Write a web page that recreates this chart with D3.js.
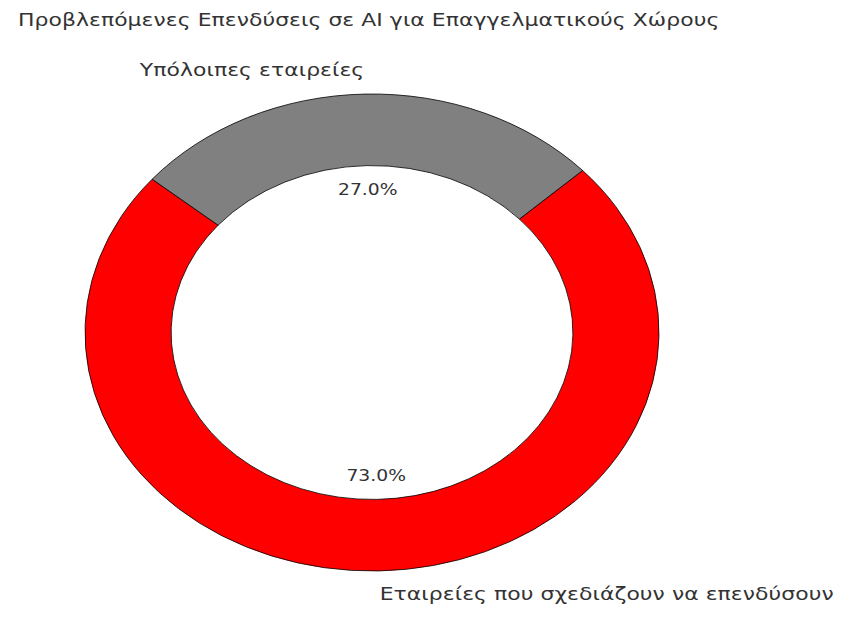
<!DOCTYPE html>
<html><head><meta charset="utf-8">
<script src="https://cdn.jsdelivr.net/npm/d3@7"></script>
<style>body{margin:0;background:#fff}svg{display:block}text{font-family:"DejaVu Sans",sans-serif;fill:#333}</style>
</head><body>
<svg id="c" width="850" height="641"></svg>
<script>
const title = "Προβλεπόμενες Επενδύσεις σε AI για Επαγγελματικούς Χώρους";
const labels = ["Εταιρείες που σχεδιάζουν να επενδύσουν", "Υπόλοιπες εταιρείες"];
const values = [73, 27];
const colors = ["#ff0000", "#808080"];

const svg = d3.select("#c");
const cx = 372, cy = 332.5, rx = 287, ry = 238.5, R = 100;
const startDeg = 140; // counterclockwise from 3 o'clock
const toD3 = d => (90 - d) * Math.PI / 180;
const sx = 1.185;

svg.append("text").attr("transform", `translate(18,26) scale(${sx},1)`)
  .attr("font-size", 18.5).attr("letter-spacing", 0.05).text(title);

const pie = d3.pie().sort(null).startAngle(toD3(startDeg)).endAngle(toD3(startDeg + 360));
const arcs = pie(values);
const arc = d3.arc().innerRadius(R * 0.7).outerRadius(R);

const g = svg.append("g").attr("transform", `translate(${cx},${cy}) scale(${rx / R},${ry / R})`);
g.selectAll("path").data(arcs).join("path")
  .attr("d", arc)
  .attr("fill", (d, i) => colors[i])
  .attr("stroke", "#000")
  .attr("stroke-width", 0.8)
  .attr("vector-effect", "non-scaling-stroke");

arcs.forEach((d, i) => {
  const mid = (d.startAngle + d.endAngle) / 2; // d3 angle
  const ux = Math.sin(mid), uy = -Math.cos(mid);
  const lx = cx + 1.1 * rx * ux, ly = cy + 1.1 * ry * uy;
  svg.append("text").attr("transform", `translate(${lx},${ly}) scale(${sx},1)`)
    .attr("dy", "0.3em")
    .attr("text-anchor", ux > 0 ? "start" : "end")
    .attr("letter-spacing", 0.05)
    .attr("font-size", 18.5).text(labels[i]);
  const px = cx + 0.6 * rx * ux, py = cy + 0.6 * ry * uy;
  svg.append("text").attr("transform", `translate(${px},${py}) scale(1.15,1)`)
    .attr("dy", "0.35em")
    .attr("text-anchor", "middle").attr("font-size", 16.3)
    .text(d3.format(".1f")(values[i] / d3.sum(values) * 100) + "%");
});
</script>
</body></html>
